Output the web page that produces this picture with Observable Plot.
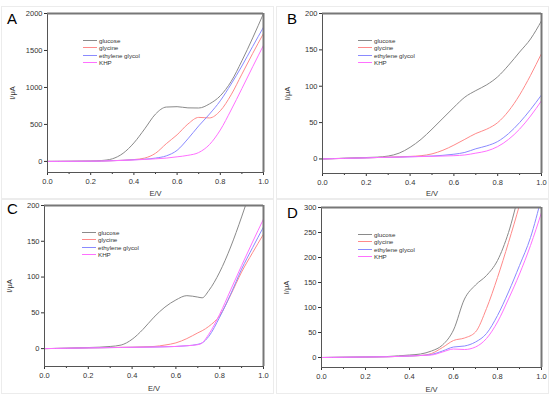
<!DOCTYPE html>
<html>
<head>
<meta charset="utf-8">
<script src="https://cdn.jsdelivr.net/npm/d3@7"></script>
<script src="https://cdn.jsdelivr.net/npm/@observablehq/plot@0.6"></script>
<style>
  html, body { margin: 0; padding: 0; background: #fff; }
  #root { position: relative; width: 550px; height: 395px; overflow: hidden; font-family: "Liberation Sans", Arial, sans-serif; }
  .panel { position: absolute; }
  .panel svg { display: block; }
  .letter { position: absolute; font-size: 15px; color: #000; line-height: 1; }
  .legend { position: absolute; font-size: 6.2px; color: #333; line-height: 7.3px; }
  .legend .row { display: flex; align-items: center; height: 7.3px; }
  .legend .sw { display: inline-block; width: 14px; height: 0; border-top: 1px solid; margin-right: 2px; }
  .box { position: absolute; border: 1px solid #ececec; }
</style>
</head>
<body>
<div id="root"></div>
<script>
// ---- data ----
const seriesNames = ["glucose", "glycine", "ethylene glycol", "KHP"];
const seriesColors = ["#8a8a8a", "#ff8a8a", "#8a8aff", "#ff70ff"];

// Panel A
const eA = [0, 0.1, 0.2, 0.25, 0.3, 0.35, 0.4, 0.45, 0.5, 0.55, 0.6, 0.65, 0.7, 0.75, 0.8, 0.85, 0.9, 0.95, 1.0];
const glucoseA  = [0, 2, 5, 12, 35, 110, 250, 440, 640, 735, 740, 724, 722, 778, 887, 1080, 1360, 1670, 2000];
const glycineA  = [0, 1, 3, 5, 10, 15, 25, 45, 110, 240, 360, 505, 595, 588, 685, 900, 1180, 1460, 1730];
const ethyleneA = [0, 1, 3, 5, 10, 15, 22, 30, 45, 75, 150, 305, 480, 640, 820, 1045, 1290, 1555, 1815];
const khpA      = [0, 1, 3, 5, 9, 14, 20, 27, 35, 45, 62, 82, 120, 228, 425, 695, 985, 1280, 1570];

// Panel B
const eB = [0, 0.1, 0.2, 0.25, 0.3, 0.35, 0.4, 0.45, 0.5, 0.55, 0.6, 0.65, 0.7, 0.75, 0.8, 0.85, 0.9, 0.95, 1.0];
const glucoseB  = [0, 1, 2, 2.5, 4, 8, 16, 27, 41, 56, 71, 85, 94, 102, 113, 129, 147, 165, 190];
const glycineB  = [0, 0.8, 1.5, 2, 2.5, 3, 3.5, 4.5, 7, 12, 19, 27, 35, 41, 50, 66, 88, 115, 145];
const ethyleneB = [0, 0.8, 1.5, 2, 2.2, 2.5, 3, 3.5, 4, 5, 6.5, 9, 14, 18, 24, 35, 50, 68, 88];
const khpB      = [0, 0.8, 1.5, 2, 2.2, 2.5, 3, 3.3, 3.6, 4, 4.5, 5.5, 8, 11, 17, 27, 41, 59, 80];

// Panel C
const eC = [0, 0.1, 0.2, 0.25, 0.3, 0.35, 0.4, 0.45, 0.5, 0.55, 0.6, 0.65, 0.7, 0.72, 0.75, 0.8, 0.85, 0.9, 0.95, 1.0];
const glucoseC  = [0, 0.5, 1.5, 2, 3, 5, 13, 27, 44, 58, 68, 74, 72, 71, 81, 107, 142, 184, 230, 280];
const glycineC  = [0, 0.5, 1, 1.2, 1.5, 1.8, 2, 2.5, 3, 5, 8, 14, 22, 25, 31, 46, 75, 107, 134, 160];
const ethyleneC = [0, 0.5, 1, 1.2, 1.4, 1.6, 1.8, 2, 2.2, 2.6, 3, 4, 6, 8, 17, 44, 76, 111, 141, 170];
const khpC      = [0, 0.5, 1, 1.2, 1.4, 1.6, 1.8, 2, 2.2, 2.5, 3, 4, 5.5, 8, 20, 48, 82, 116, 149, 181];

// Panel D
const eD = [0, 0.1, 0.2, 0.3, 0.4, 0.45, 0.5, 0.55, 0.6, 0.65, 0.7, 0.75, 0.8, 0.85, 0.9, 0.95, 1.0];
const glucoseD  = [0, 0.5, 1, 2, 5, 7, 13, 25, 55, 117, 145, 164, 194, 250, 330, 400, 470];
const glycineD  = [0, 0.5, 1, 1.5, 3, 4, 8, 20, 34, 39, 51, 98, 160, 230, 305, 390, 470];
const ethyleneD = [0, 0.5, 1, 1.5, 3, 4, 6, 13, 21, 23, 31, 48, 84, 131, 184, 240, 320];
const khpD      = [0, 0.5, 1, 1.5, 3, 4, 5, 11, 17, 16, 21, 38, 71, 117, 167, 224, 290];

// y axis domains / ticks
const yDomA = [-150, 2000], yTicksA = [0, 500, 1000, 1500, 2000];
const yDomB = [-20, 200],  yTicksB = [0, 50, 100, 150, 200];
const yDomC = [-25, 200],  yTicksC = [0, 50, 100, 150, 200];
const yDomD = [-20, 300],  yTicksD = [0, 50, 100, 150, 200, 250, 300];
const xTicks = [0, 0.2, 0.4, 0.6, 0.8, 1.0];
const xMinor = [0.1, 0.3, 0.5, 0.7, 0.9];

function rows(E, arrays) {
  const out = [];
  arrays.forEach((arr, s) => arr.forEach((v, i) => out.push({E: E[i], I: v, s: seriesNames[s]})));
  return out;
}

const panels = [
  {letter: "A", E: eA, arrays: [glucoseA, glycineA, ethyleneA, khpA], yDom: yDomA, yTicks: yTicksA,
   left: 0, top: 0, width: 275, height: 197, m: [13, 12, 25, 47], lo: 23, letterPos: [7, 11], legPos: [83, 37]},
  {letter: "B", E: eB, arrays: [glucoseB, glycineB, ethyleneB, khpB], yDom: yDomB, yTicks: yTicksB,
   left: 275, top: 0, width: 275, height: 197, m: [13, 9, 24, 47], lo: 22, letterPos: [287, 11], legPos: [358, 37]},
  {letter: "C", E: eC, arrays: [glucoseC, glycineC, ethyleneC, khpC], yDom: yDomC, yTicks: yTicksC,
   left: 0, top: 197, width: 275, height: 198, m: [8, 12, 29, 44], lo: 24, letterPos: [7, 201], legPos: [82, 229]},
  {letter: "D", E: eD, arrays: [glucoseD, glycineD, ethyleneD, khpD], yDom: yDomD, yTicks: yTicksD,
   left: 275, top: 197, width: 275, height: 198, m: [10, 9, 28, 46], lo: 24, letterPos: [287, 205], legPos: [358, 231]}
];

const root = document.getElementById("root");

// faint panel borders
[[1, 6, 271, 191], [276, 6, 271, 191], [1, 199, 271, 193], [276, 199, 271, 193]].forEach(([l, t, w, h]) => {
  const b = document.createElement("div");
  b.className = "box";
  Object.assign(b.style, {left: l + "px", top: t + "px", width: w + "px", height: h + "px"});
  root.appendChild(b);
});

panels.forEach(p => {
  const data = rows(p.E, p.arrays);
  const [mt, mr, mb, ml] = p.m;
  const chart = Plot.plot({
    width: p.width, height: p.height,
    marginTop: mt, marginRight: mr, marginBottom: mb, marginLeft: ml,
    style: {fontFamily: "Liberation Sans, Arial, sans-serif", fontSize: "7.5px", color: "#333", background: "transparent"},
    x: {domain: [0, 1]},
    y: {domain: p.yDom},
    color: {domain: seriesNames, range: seriesColors},
    marks: [
      Plot.axisX({ticks: xTicks, tickFormat: d3.format(".1f"), tickSize: 3, tickPadding: 3, label: "E/V", labelAnchor: "center", labelArrow: "none", labelOffset: p.lo, fontSize: 7.5}),
      Plot.axisX({ticks: xMinor, tickSize: 2, text: null, label: null}),
      Plot.axisY({ticks: p.yTicks, tickFormat: d3.format("d"), tickSize: 3, tickPadding: 2, label: "I/μA", labelAnchor: "center", labelArrow: "none", labelOffset: 38, fontSize: 7.5}),
      Plot.line(data, {x: "E", y: "I", z: "s", stroke: "s", strokeWidth: 1, curve: "monotone-x", clip: true}),
      Plot.frame({stroke: "#555", strokeWidth: 1}),
      Plot.ruleY([p.yDom[1]], {stroke: "#777", strokeWidth: 2}),
      Plot.ruleX([1], {stroke: "#777", strokeWidth: 2})
    ]
  });
  const wrap = document.createElement("div");
  wrap.className = "panel";
  wrap.style.left = p.left + "px";
  wrap.style.top = p.top + "px";
  wrap.appendChild(chart);
  root.appendChild(wrap);

  const L = document.createElement("div");
  L.className = "letter";
  L.textContent = p.letter;
  L.style.left = p.letterPos[0] + "px";
  L.style.top = p.letterPos[1] + "px";
  root.appendChild(L);

  const leg = document.createElement("div");
  leg.className = "legend";
  leg.style.left = p.legPos[0] + "px";
  leg.style.top = p.legPos[1] + "px";
  seriesNames.forEach((n, i) => {
    const r = document.createElement("div");
    r.className = "row";
    const sw = document.createElement("span");
    sw.className = "sw";
    sw.style.borderTopColor = seriesColors[i];
    const t = document.createElement("span");
    t.textContent = n;
    r.appendChild(sw);
    r.appendChild(t);
    leg.appendChild(r);
  });
  root.appendChild(leg);
});
</script>
</body>
</html>
